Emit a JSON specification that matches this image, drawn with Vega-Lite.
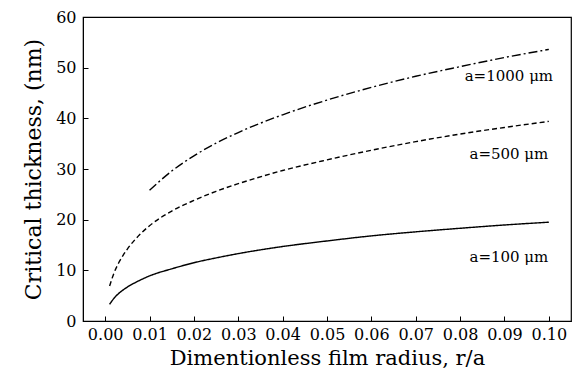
{
  "$schema": "https://vega.github.io/schema/vega-lite/v6.json",
  "autosize": "none",
  "width": 488,
  "height": 304,
  "padding": {"left": 83, "top": 17, "right": 5, "bottom": 52},
  "background": "white",
  "config": {
    "view": {"stroke": "black", "strokeWidth": 1.2},
    "font": "DejaVu Serif"
  },
  "datasets": {
    "curves": [
      {"s": "a=100", "x": 0.001, "y": 3.3},
      {"s": "a=100", "x": 0.002, "y": 4.5},
      {"s": "a=100", "x": 0.003, "y": 5.4},
      {"s": "a=100", "x": 0.004, "y": 6.1},
      {"s": "a=100", "x": 0.005, "y": 6.7},
      {"s": "a=100", "x": 0.0075, "y": 7.9},
      {"s": "a=100", "x": 0.01, "y": 8.9},
      {"s": "a=100", "x": 0.015, "y": 10.3},
      {"s": "a=100", "x": 0.02, "y": 11.5},
      {"s": "a=100", "x": 0.025, "y": 12.45},
      {"s": "a=100", "x": 0.03, "y": 13.3},
      {"s": "a=100", "x": 0.04, "y": 14.7},
      {"s": "a=100", "x": 0.05, "y": 15.8},
      {"s": "a=100", "x": 0.06, "y": 16.8},
      {"s": "a=100", "x": 0.07, "y": 17.6},
      {"s": "a=100", "x": 0.08, "y": 18.3},
      {"s": "a=100", "x": 0.09, "y": 18.95},
      {"s": "a=100", "x": 0.10, "y": 19.5},
      {"s": "a=500", "x": 0.001, "y": 6.9},
      {"s": "a=500", "x": 0.002, "y": 9.5},
      {"s": "a=500", "x": 0.003, "y": 11.4},
      {"s": "a=500", "x": 0.004, "y": 12.9},
      {"s": "a=500", "x": 0.005, "y": 14.2},
      {"s": "a=500", "x": 0.0075, "y": 16.8},
      {"s": "a=500", "x": 0.01, "y": 18.8},
      {"s": "a=500", "x": 0.015, "y": 21.7},
      {"s": "a=500", "x": 0.02, "y": 23.8},
      {"s": "a=500", "x": 0.025, "y": 25.6},
      {"s": "a=500", "x": 0.03, "y": 27.1},
      {"s": "a=500", "x": 0.04, "y": 29.7},
      {"s": "a=500", "x": 0.05, "y": 31.8},
      {"s": "a=500", "x": 0.06, "y": 33.7},
      {"s": "a=500", "x": 0.07, "y": 35.4},
      {"s": "a=500", "x": 0.08, "y": 36.9},
      {"s": "a=500", "x": 0.09, "y": 38.2},
      {"s": "a=500", "x": 0.10, "y": 39.4},
      {"s": "a=1000", "x": 0.01, "y": 25.8},
      {"s": "a=1000", "x": 0.015, "y": 29.6},
      {"s": "a=1000", "x": 0.02, "y": 32.6},
      {"s": "a=1000", "x": 0.025, "y": 35.1},
      {"s": "a=1000", "x": 0.03, "y": 37.2},
      {"s": "a=1000", "x": 0.04, "y": 40.7},
      {"s": "a=1000", "x": 0.05, "y": 43.6},
      {"s": "a=1000", "x": 0.06, "y": 46.1},
      {"s": "a=1000", "x": 0.07, "y": 48.3},
      {"s": "a=1000", "x": 0.08, "y": 50.2},
      {"s": "a=1000", "x": 0.09, "y": 52.0},
      {"s": "a=1000", "x": 0.10, "y": 53.6}
    ],
    "labels": [
      {"x": 0.091, "y": 48.4, "label": "a=1000 μm"},
      {"x": 0.091, "y": 33.0, "label": "a=500 μm"},
      {"x": 0.091, "y": 12.6, "label": "a=100 μm"}
    ]
  },
  "layer": [
    {
      "data": {"name": "curves"},
      "mark": {"type": "line", "color": "black", "strokeWidth": 1.4, "interpolate": "monotone"},
      "encoding": {
        "x": {
          "field": "x", "type": "quantitative",
          "scale": {"domain": [-0.005, 0.105], "nice": false, "zero": false},
          "axis": {
            "title": "Dimentionless film radius, r/a",
            "values": [0, 0.005, 0.01, 0.015, 0.02, 0.025, 0.03, 0.035, 0.04, 0.045, 0.05, 0.055, 0.06, 0.065, 0.07, 0.075, 0.08, 0.085, 0.09, 0.095, 0.1],
            "labelExpr": "abs(datum.value*100 - round(datum.value*100)) < 0.01 ? format(datum.value, '.2f') : ''",
            "grid": false,
            "domainColor": "black",
            "tickColor": "black",
            "tickSize": -5,
            "labelPadding": 10,
            "labelFontSize": 16,
            "labelColor": "black",
            "labelFont": "DejaVu Serif",
            "titleFont": "DejaVu Serif",
            "titleFontSize": 21,
            "titleFontWeight": "normal",
            "titleColor": "black",
            "titlePadding": 5
          }
        },
        "y": {
          "field": "y", "type": "quantitative",
          "scale": {"domain": [0, 60], "nice": false},
          "axis": {
            "title": "Critical thickness, (nm)",
            "values": [0, 5, 10, 15, 20, 25, 30, 35, 40, 45, 50, 55, 60],
            "labelExpr": "datum.value % 10 == 0 ? datum.value : ''",
            "grid": false,
            "domainColor": "black",
            "tickColor": "black",
            "tickSize": -5,
            "labelPadding": 12,
            "labelFontSize": 16,
            "labelColor": "black",
            "labelFont": "DejaVu Serif",
            "titleFont": "DejaVu Serif",
            "titleFontSize": 22,
            "titleFontWeight": "normal",
            "titleColor": "black",
            "titlePadding": 10
          }
        },
        "detail": {"field": "s"},
        "strokeDash": {
          "field": "s", "type": "nominal",
          "scale": {"domain": ["a=100", "a=500", "a=1000"], "range": [[1, 0], [5, 3], [9, 3, 2, 3]]},
          "legend": null
        }
      }
    },
    {
      "data": {"name": "labels"},
      "mark": {"type": "text", "font": "DejaVu Serif", "fontSize": 15, "color": "black", "align": "center", "baseline": "middle"},
      "encoding": {
        "x": {"field": "x", "type": "quantitative"},
        "y": {"field": "y", "type": "quantitative"},
        "text": {"field": "label"}
      }
    }
  ]
}
